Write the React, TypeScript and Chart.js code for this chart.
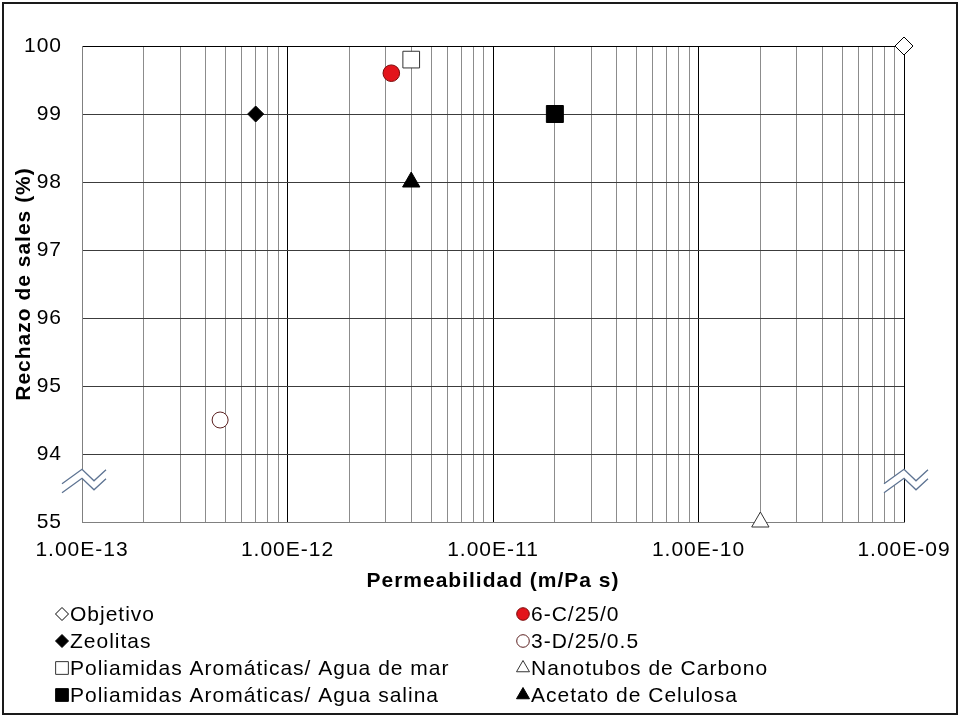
import React, { useEffect, useRef } from 'react';
import { Chart, registerables } from 'chart.js';

Chart.register(...registerables);

// Series, in legend order (left column first, then right column)
const seriesNames = [
  'Objetivo',
  'Zeolitas',
  'Poliamidas Aromáticas/ Agua de mar',
  'Poliamidas Aromáticas/ Agua salina',
  '6-C/25/0',
  '3-D/25/0.5',
  'Nanotubos de Carbono',
  'Acetato de Celulosa',
];
// Permeability (m/Pa s)
const permeability = [1e-9, 7e-13, 4e-12, 2e-11, 3.2e-12, 4.7e-13, 2e-10, 4e-12];
// Salt rejection (%)
const saltRejection = [100, 99, 99.8, 99, 99.6, 94.5, 55, 98];

// Axis ticks
const decades = [1e-13, 1e-12, 1e-11, 1e-10, 1e-9];
const xTickLabels = ['1.00E-13', '1.00E-12', '1.00E-11', '1.00E-10', '1.00E-09'];
const yTickValues = [55, 94, 95, 96, 97, 98, 99, 100];

// The rejection axis is broken: anything under 94 % is placed on the lowest slot.
const BREAK_FLOOR = 94;
const BREAK_SLOT = 93;
const toAxisY = (v: number) => (v < BREAK_FLOOR ? BREAK_SLOT : v);

type Marker = {
  style: 'circle' | 'rect' | 'rectRot' | 'triangle';
  radius: number;
  legendRadius: number;
  fill: string;
  stroke: string;
};

const markers: Marker[] = [
  { style: 'rectRot', radius: 9, legendRadius: 6.5, fill: '#ffffff', stroke: '#000000' },
  { style: 'rectRot', radius: 8, legendRadius: 6.5, fill: '#000000', stroke: '#000000' },
  { style: 'rect', radius: 11.8, legendRadius: 9, fill: '#ffffff', stroke: '#333333' },
  { style: 'rect', radius: 12, legendRadius: 9, fill: '#000000', stroke: '#000000' },
  { style: 'circle', radius: 8.3, legendRadius: 6.3, fill: '#e3141b', stroke: '#7a0a0a' },
  { style: 'circle', radius: 8, legendRadius: 6.3, fill: '#ffffff', stroke: '#5a1f1f' },
  { style: 'triangle', radius: 10, legendRadius: 7.5, fill: '#ffffff', stroke: '#333333' },
  { style: 'triangle', radius: 10, legendRadius: 7.5, fill: '#000000', stroke: '#000000' },
];

const FONT = "'Liberation Sans', Arial, sans-serif";
const SPACING = '1px';

function drawMarker(ctx: CanvasRenderingContext2D, m: Marker, x: number, y: number, r: number) {
  ctx.beginPath();
  if (m.style === 'circle') {
    ctx.arc(x, y, r, 0, Math.PI * 2);
  } else if (m.style === 'rect') {
    const s = r * Math.SQRT1_2;
    ctx.rect(x - s, y - s, 2 * s, 2 * s);
  } else if (m.style === 'rectRot') {
    ctx.moveTo(x, y - r);
    ctx.lineTo(x + r, y);
    ctx.lineTo(x, y + r);
    ctx.lineTo(x - r, y);
    ctx.closePath();
  } else {
    const h = r * Math.sin(Math.PI / 3);
    ctx.moveTo(x, y - r);
    ctx.lineTo(x + h, y + r / 2);
    ctx.lineTo(x - h, y + r / 2);
    ctx.closePath();
  }
  ctx.fillStyle = m.fill;
  ctx.fill();
  ctx.lineWidth = 1;
  ctx.strokeStyle = m.stroke;
  ctx.stroke();
}

const letterSpacingPlugin = {
  id: 'letterSpacing',
  beforeUpdate(chart: any) {
    chart.ctx.letterSpacing = SPACING;
  },
  beforeDraw(chart: any) {
    chart.ctx.letterSpacing = SPACING;
  },
};

// Zig-zag marks on both ends of the break in the rejection axis
const axisBreakPlugin = {
  id: 'axisBreak',
  afterDatasetsDraw(chart: any) {
    const { ctx, chartArea, scales } = chart;
    const y0 = scales.y.getPixelForValue(93.62);
    const zig = [
      [-20, 4],
      [0, -10.5],
      [12, 1],
      [24, -10],
    ];
    const gap = 9;
    const trace = (ax: number, off: number) => {
      ctx.beginPath();
      zig.forEach(([dx, dy], i) => {
        if (i === 0) ctx.moveTo(ax + dx, y0 + dy + off);
        else ctx.lineTo(ax + dx, y0 + dy + off);
      });
      ctx.stroke();
    };
    ctx.save();
    [chartArea.left, chartArea.right].forEach((ax: number) => {
      ctx.beginPath();
      zig.forEach(([dx, dy], i) => {
        if (i === 0) ctx.moveTo(ax + dx, y0 + dy);
        else ctx.lineTo(ax + dx, y0 + dy);
      });
      for (let i = zig.length - 1; i >= 0; i--) ctx.lineTo(ax + zig[i][0], y0 + zig[i][1] + gap);
      ctx.closePath();
      ctx.fillStyle = '#ffffff';
      ctx.fill();
      ctx.strokeStyle = '#5d7392';
      ctx.lineWidth = 1.3;
      trace(ax, 0);
      trace(ax, gap);
    });
    ctx.restore();
  },
};

// Two-column legend under the axis title, plus the outer frame
const legendPlugin = {
  id: 'twoColumnLegend',
  afterDraw(chart: any) {
    const { ctx } = chart;
    const columns = [
      { markerX: 62, textX: 70 },
      { markerX: 523, textX: 531 },
    ];
    const firstRowY = 614;
    const rowStep = 27;
    const perColumn = 4;
    ctx.save();
    ctx.letterSpacing = SPACING;
    ctx.font = `21px ${FONT}`;
    ctx.textBaseline = 'middle';
    ctx.textAlign = 'left';
    seriesNames.forEach((name, i) => {
      const col = columns[Math.floor(i / perColumn)];
      const y = firstRowY + (i % perColumn) * rowStep;
      drawMarker(ctx, markers[i], col.markerX, y, markers[i].legendRadius);
      ctx.fillStyle = '#000000';
      ctx.fillText(name, col.textX, y + 1);
    });
    ctx.lineWidth = 2;
    ctx.strokeStyle = '#1a1a1a';
    ctx.strokeRect(3, 3, 954, 711);
    ctx.restore();
  },
};

export default function App() {
  const canvasRef = useRef<HTMLCanvasElement | null>(null);

  useEffect(() => {
    document.body.style.margin = '0';
    const canvas = canvasRef.current;
    if (!canvas) return;

    const datasets = seriesNames.map((name, i) => {
      const m = markers[i];
      return {
        label: name,
        data: [{ x: permeability[i], y: toAxisY(saltRejection[i]) }],
        pointStyle: m.style,
        pointRadius: m.radius,
        pointBackgroundColor: m.fill,
        pointBorderColor: m.stroke,
        pointBorderWidth: 1,
        showLine: false,
        clip: false as any,
      };
    });

    const chart = new Chart(canvas, {
      type: 'scatter',
      data: { datasets },
      options: {
        animation: false,
        responsive: false,
        events: [],
        layout: { padding: { left: 0, top: 46, right: 56, bottom: 129 } },
        plugins: {
          legend: { display: false },
          tooltip: { enabled: false },
        },
        scales: {
          x: {
            type: 'logarithmic',
            min: decades[0],
            max: decades[decades.length - 1],
            afterBuildTicks: (scale: any) => {
              const ticks: { value: number; major: boolean }[] = [];
              decades.forEach((d, i) => {
                if (i === decades.length - 1) {
                  ticks.push({ value: d, major: true });
                  return;
                }
                for (let k = 1; k <= 9; k++) ticks.push({ value: k === 1 ? d : k * d, major: k === 1 });
              });
              scale.ticks = ticks;
            },
            afterFit: (scale: any) => {
              scale.height = 72;
              scale.paddingLeft = 0;
              scale.paddingRight = 0;
            },
            ticks: {
              autoSkip: false,
              maxRotation: 0,
              padding: 16,
              color: '#000000',
              font: { family: FONT, size: 21 },
              callback: (value: any) => {
                const i = decades.indexOf(Number(value));
                return i >= 0 ? xTickLabels[i] : '';
              },
            },
            grid: {
              drawTicks: false,
              lineWidth: 1,
              color: (ctx: any) => (ctx.tick && ctx.tick.major ? '#000000' : '#8c8c8c'),
            },
            border: { color: '#808080' },
            title: {
              display: true,
              text: 'Permeabilidad (m/Pa s)',
              color: '#000000',
              font: { family: FONT, size: 21, weight: 'bold' },
              padding: { top: 0, bottom: 0 },
            },
          },
          y: {
            type: 'linear',
            min: BREAK_SLOT,
            max: 100,
            afterBuildTicks: (scale: any) => {
              scale.ticks = yTickValues.map((v) => ({ value: toAxisY(v) }));
            },
            afterFit: (scale: any) => {
              scale.width = 82;
              scale.paddingTop = 0;
              scale.paddingBottom = 0;
            },
            ticks: {
              padding: 20,
              color: '#000000',
              font: { family: FONT, size: 21 },
              callback: (_value: any, index: number) => String(yTickValues[index]),
            },
            grid: {
              drawTicks: false,
              lineWidth: 1,
              color: (ctx: any) => {
                const v = ctx.tick ? ctx.tick.value : 0;
                if (v === 100) return '#000000';
                if (v === BREAK_SLOT) return '#808080';
                return '#3c3c3c';
              },
            },
            border: { color: '#808080' },
            title: {
              display: true,
              text: 'Rechazo de sales (%)',
              color: '#000000',
              font: { family: FONT, size: 21, weight: 'bold' },
              padding: { top: 12, bottom: 0 },
            },
          },
        },
      } as any,
      plugins: [letterSpacingPlugin, axisBreakPlugin, legendPlugin],
    });

    return () => {
      chart.destroy();
    };
  }, []);

  return <canvas ref={canvasRef} width={960} height={723} style={{ display: 'block' }} />;
}
